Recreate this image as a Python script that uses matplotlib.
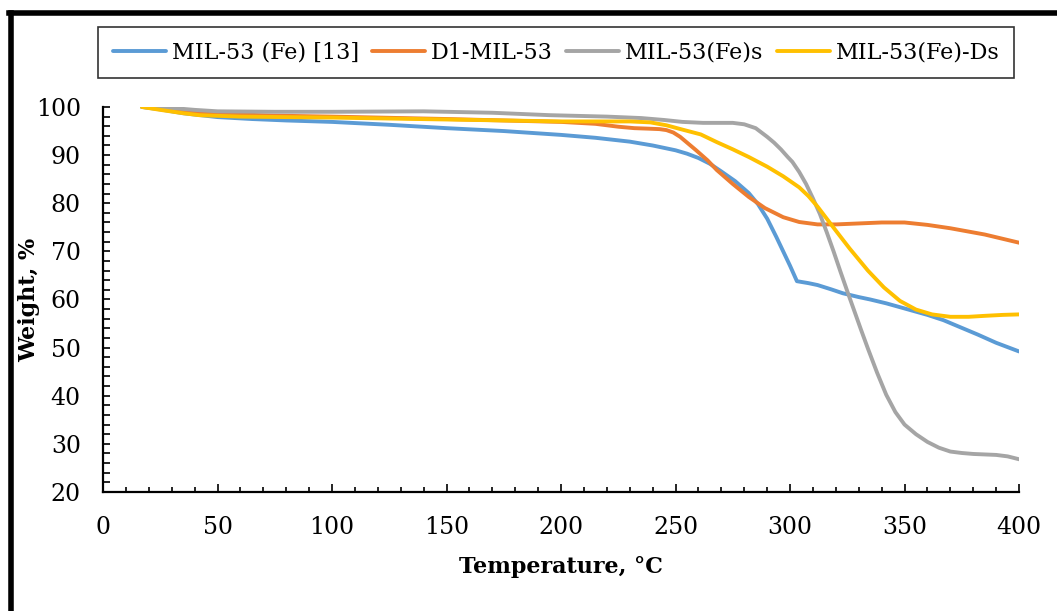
import matplotlib
matplotlib.use("Agg")
import matplotlib.pyplot as plt
from matplotlib.lines import Line2D
from matplotlib.ticker import MultipleLocator

# Data (temperature in degC, weight in %)
blue_t = [17, 25, 35, 50, 65, 80, 100, 125, 150, 175, 200, 215, 230, 240, 250, 255, 260, 265, 270, 276,
          282, 286, 290, 294, 297, 300, 303, 308, 312, 318, 323, 330, 335, 342, 348, 354, 360, 367, 374,
          382, 390, 395, 400]
blue_w = [100, 99.5, 98.7, 97.9, 97.5, 97.2, 96.9, 96.3, 95.6, 95.0, 94.2, 93.6, 92.8, 92.0, 91.0, 90.3,
          89.4, 88.2, 86.6, 84.6, 82.1, 79.8, 76.8, 73.0, 70.0, 67.0, 63.8, 63.4, 63.0, 62.1, 61.3, 60.5,
          60.0, 59.2, 58.4, 57.6, 56.8, 55.7, 54.3, 52.7, 51.0, 50.1, 49.2]

orange_t = [17, 25, 35, 50, 75, 100, 150, 200, 215, 225, 232, 238, 243, 246, 249, 252, 255, 259, 264, 268,
            275, 282, 289, 297, 304, 312, 320, 330, 340, 350, 360, 370, 385, 400]
orange_w = [100, 99.8, 99.3, 98.6, 98.2, 98.0, 97.5, 96.9, 96.5, 95.9, 95.6, 95.5, 95.4, 95.2, 94.7, 93.8,
            92.6, 91.0, 88.9, 86.9, 84.0, 81.3, 79.0, 77.1, 76.1, 75.6, 75.6, 75.8, 76.0, 76.0, 75.5, 74.8,
            73.5, 71.8]

gray_t = [17, 30, 40, 50, 75, 100, 140, 170, 195, 220, 235, 245, 253, 262, 270, 275, 280, 285, 290, 293,
          296, 299, 301, 304, 307, 310, 313, 316, 319, 322, 325, 328, 331, 334, 338, 342, 346, 350, 355,
          360, 365, 370, 375, 380, 390, 395, 400]
gray_w = [100, 99.8, 99.4, 99.1, 99.0, 99.0, 99.1, 98.8, 98.3, 98.0, 97.7, 97.3, 96.9, 96.7, 96.7, 96.7,
          96.4, 95.6, 93.8, 92.6, 91.2, 89.6, 88.6, 86.5, 84.0, 81.0, 77.8, 74.0, 70.0, 65.8, 61.7, 57.7,
          53.7, 49.8, 44.8, 40.2, 36.6, 34.0, 32.0, 30.4, 29.2, 28.4, 28.1, 27.9, 27.7, 27.4, 26.8]

yellow_t = [17, 25, 35, 42, 60, 100, 150, 200, 230, 239, 246, 253, 261, 268, 275, 282, 290, 297, 304, 308,
            312, 316, 320, 326, 334, 341, 348, 355, 362, 370, 378, 385, 393, 400]
yellow_w = [100, 99.4, 98.7, 98.3, 98.0, 97.8, 97.4, 97.0, 97.0, 96.8, 96.2, 95.3, 94.3, 92.7, 91.2, 89.6,
            87.6, 85.6, 83.3, 81.5, 79.3, 76.8, 74.3, 70.6, 66.0, 62.5, 59.7, 57.9, 56.9, 56.4, 56.4, 56.6,
            56.8, 56.9]

series_labels = ["MIL-53 (Fe) [13]", "D1-MIL-53", "MIL-53(Fe)s", "MIL-53(Fe)-Ds"]
series_colors = ["#5B9BD5", "#ED7D31", "#A5A5A5", "#FFC000"]

plt.rcParams['font.family'] = 'DejaVu Serif'

fig = plt.figure(figsize=(10.57, 6.11), dpi=100)
ax = fig.add_axes([0.0975, 0.1948, 0.8666, 0.6301])

all_t = [blue_t, orange_t, gray_t, yellow_t]
all_w = [blue_w, orange_w, gray_w, yellow_w]
for t, w, lab, col in zip(all_t, all_w, series_labels, series_colors):
    ax.plot(t, w, color=col, lw=2.8, label=lab, solid_capstyle='round', solid_joinstyle='round')

ax.set_xlim(0, 400)
ax.set_ylim(20, 100)
ax.xaxis.set_major_locator(MultipleLocator(50))
ax.xaxis.set_minor_locator(MultipleLocator(10))
ax.yaxis.set_major_locator(MultipleLocator(10))
ax.yaxis.set_minor_locator(MultipleLocator(2))

ax.spines['top'].set_visible(False)
ax.spines['right'].set_visible(False)
ax.spines['left'].set_linewidth(1.6)
ax.spines['bottom'].set_linewidth(1.6)
ax.tick_params(axis='both', which='both', direction='in', width=1.2, labelsize=17)
ax.tick_params(axis='x', which='both', pad=17)
ax.tick_params(axis='y', which='both', pad=16)
ax.tick_params(axis='x', which='major', length=6)
ax.tick_params(axis='x', which='minor', length=3.5)
ax.tick_params(axis='y', which='both', length=5)

ax.set_xlabel("Temperature, °C", fontsize=16, fontweight='bold')
ax.set_ylabel("Weight, %", fontsize=16, fontweight='bold')
ax.xaxis.set_label_coords(0.5, -0.165)
ax.yaxis.set_label_coords(-0.069, 0.5)

legend = fig.legend(loc='center', bbox_to_anchor=(0.526, 0.914), ncol=4, fontsize=16,
                    frameon=True, fancybox=False, handlelength=2.4, handletextpad=0.25,
                    columnspacing=0.6, borderpad=0.65)
frame = legend.get_frame()
frame.set_edgecolor("black")
frame.set_linewidth(1.2)

# thick black frame on the left and top (figure cropped on other sides)
fig.add_artist(Line2D([10.5 / 1057, 10.5 / 1057], [0, 1 - 12.5 / 611], color='black', lw=4, transform=fig.transFigure))
fig.add_artist(Line2D([8.5 / 1057, 1], [1 - 12.5 / 611, 1 - 12.5 / 611], color='black', lw=4, transform=fig.transFigure))

fig.savefig("out.png", dpi=100)
